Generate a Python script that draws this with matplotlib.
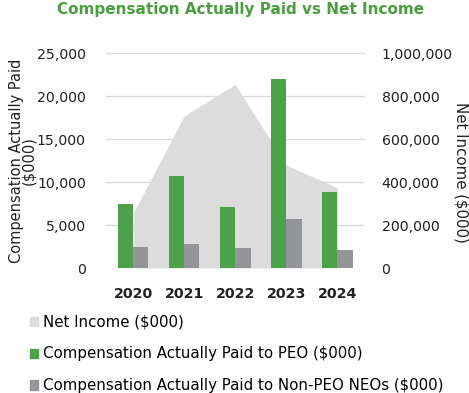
import numpy as np
import matplotlib
matplotlib.use('Agg')
import matplotlib.pyplot as plt
from matplotlib.patches import Patch

years = ['2020', '2021', '2022', '2023', '2024']
cap_peo = [7500, 10700, 7050, 22000, 8850]
cap_neo = [2500, 2750, 2300, 5650, 2150]
net_income = [254000, 707000, 854000, 479000, 373000]

green = '#4ca24a'
grey = '#939598'
light = '#dcdcdd'

plt.rcParams['font.family'] = 'DejaVu Sans'

fig = plt.figure(figsize=(4.69, 3.93), dpi=100)
ax2 = fig.add_axes([0.226, 0.318, 0.552, 0.547])
ax = ax2.twinx()

x = np.arange(len(years))

# net income area behind the bars
ax2.fill_between(x, net_income, color=light, zorder=2, linewidth=0)
ax2.set_ylim(0, 1000000)
ax2.set_yticks(np.arange(0, 1000001, 200000))
ax2.grid(axis='y', color='#d9d9d9', linewidth=1, zorder=0)
ax2.set_axisbelow(True)

w = 0.3
ax.bar(x - w / 2, cap_peo, width=w, color=green, zorder=3)
ax.bar(x + w / 2, cap_neo, width=w, color=grey, zorder=3)
ax.set_ylim(0, 25000)
ax.set_yticks(np.arange(0, 25001, 5000))
ax2.set_xlim(-0.53, 4.54)
ax2.set_xticks(x)
ax2.set_xticklabels(years, fontweight='bold', fontsize=10)

ax.set_zorder(ax2.get_zorder() + 1)
ax.patch.set_visible(False)

# left axis for compensation, right for net income
ax.yaxis.tick_left()
ax2.yaxis.tick_right()

fmt = matplotlib.ticker.FuncFormatter(lambda v, p: f'{int(v):,}')
ax.yaxis.set_major_formatter(fmt)
ax2.yaxis.set_major_formatter(fmt)

for a in (ax, ax2):
    for s in a.spines.values():
        s.set_visible(False)
    a.tick_params(length=0, labelsize=10.2, colors='#222222')
ax.tick_params(axis='y', pad=14.5)
ax2.tick_params(axis='y', pad=12)
ax2.tick_params(axis='x', pad=14)

ax.set_ylabel('Compensation Actually Paid\n($000)', fontsize=10.5, color='#222222',
              linespacing=0.72, rotation=90, va='center', ha='center')
ax.yaxis.set_label_coords(-0.322, 0.5)
ax2.set_ylabel('Net Income ($000)', fontsize=10.8, color='#222222', rotation=270,
               va='center')
ax2.yaxis.set_label_coords(1.373, 0.443)

fig.suptitle('Compensation Actually Paid vs Net Income', x=0.513, y=0.995,
             fontsize=11, fontweight='bold', color='#4a9e3f')

handles = [Patch(color=light), Patch(color=green), Patch(color=grey)]
labels = ['Net Income ($000)', 'Compensation Actually Paid to PEO ($000)',
          'Compensation Actually Paid to Non-PEO NEOs ($000)']
fig.legend(handles, labels, loc='upper left', bbox_to_anchor=(0.063, 0.2),
           frameon=False, fontsize=10.8, handlelength=0.55, handleheight=0.55,
           handletextpad=0.35, labelspacing=1.13, borderpad=0, borderaxespad=0)

fig.savefig('out.png', dpi=100)
